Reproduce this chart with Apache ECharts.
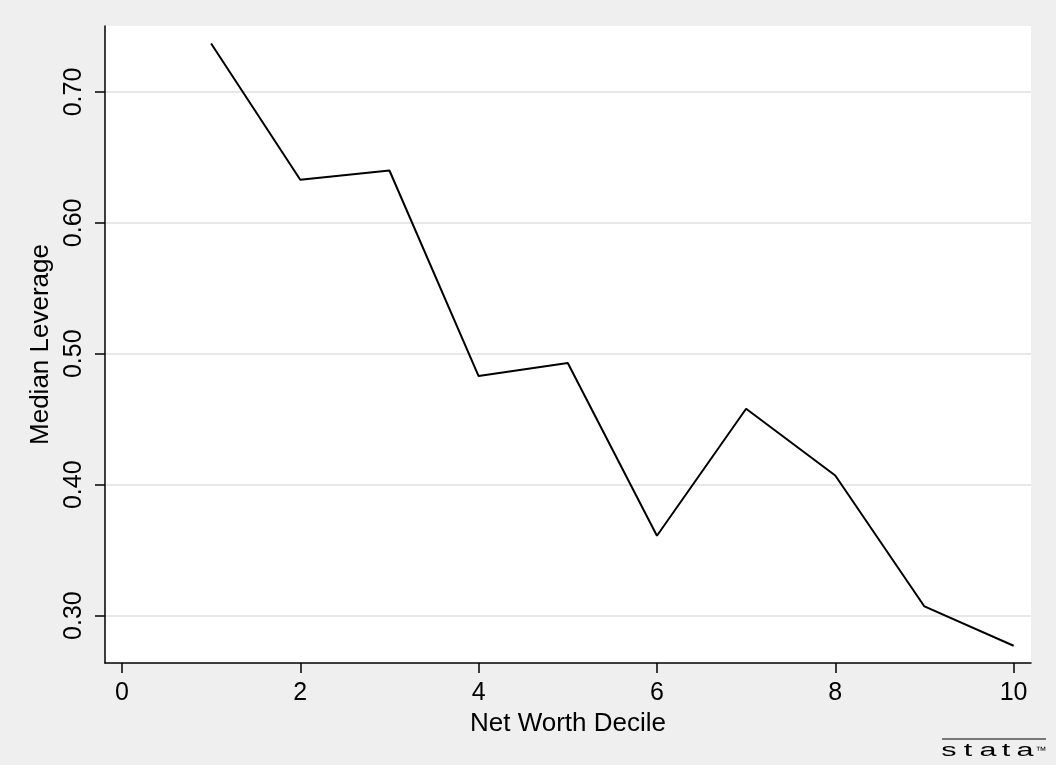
<!DOCTYPE html>
<html><head><meta charset="utf-8">
<script src="https://cdn.jsdelivr.net/npm/echarts@6/dist/echarts.min.js"></script>
<style>html,body{margin:0;padding:0;background:#efefef}#c{width:1056px;height:765px}</style>
</head><body><div id="c"></div>
<script>
const deciles = [1,2,3,4,5,6,7,8,9,10];
const medianLeverage = [0.737,0.633,0.640,0.483,0.493,0.361,0.458,0.407,0.307,0.277];
const xTicks = [0,2,4,6,8,10];
const yTicks = [0.3,0.4,0.5,0.6,0.7];
const logoChars = ['s','t','a','t','a','™'];
const font = '"Liberation Sans", Arial, sans-serif';
const chart = echarts.init(document.getElementById('c'));
const logoX = [949,968,988,1006,1025,1041];
const logo = logoChars.map((ch,i)=>({type:'group',x:logoX[i],y:751,scaleX:i<5?1.7:1,
  children:[{type:'text',x:0,y:0,
  style:{text:ch,fontFamily:font,fontSize:i<5?18:11,fill:'#000',align:'center',verticalAlign:'middle'}}]}));
chart.setOption({
  backgroundColor:'#efefef',
  animation:false,
  grid:{left:105,top:26,right:25,bottom:102,show:true,backgroundColor:'#ffffff',borderWidth:0},
  xAxis:{type:'value',min:-0.19,max:10.195,
    name:'Net Worth Decile',nameLocation:'middle',nameGap:44,
    nameTextStyle:{fontFamily:font,fontSize:26,color:'#000'},
    axisLine:{show:true,onZero:false,lineStyle:{color:'#000',width:1.5}},
    axisTick:{show:true,length:10,customValues:xTicks,lineStyle:{color:'#000',width:1.5}},
    axisLabel:{customValues:xTicks,margin:18,fontFamily:font,fontSize:25,color:'#000'},
    splitLine:{show:false}},
  yAxis:{type:'value',min:0.2638,max:0.7504,
    name:'Median Leverage',nameLocation:'middle',nameGap:43,nameRotate:90,
    nameTextStyle:{fontFamily:font,fontSize:26,color:'#000'},
    axisLine:{show:true,onZero:false,lineStyle:{color:'#000',width:1.5}},
    axisTick:{show:true,length:10,customValues:yTicks,lineStyle:{color:'#000',width:1.5}},
    axisLabel:{customValues:yTicks,rotate:90,margin:18,fontFamily:font,fontSize:25,color:'#000',
      formatter:v=>v.toFixed(2)},
    splitLine:{show:true,lineStyle:{color:'#e8e8e8',width:2}}},
  series:[{type:'line',data:deciles.map((d,i)=>[d,medianLeverage[i]]),
    symbol:'none',lineStyle:{color:'#000',width:2},z:5}],
  graphic:[
    {type:'line',shape:{x1:942,y1:739,x2:1046,y2:739},style:{stroke:'#000',lineWidth:1}}
  ].concat(logo)
});
</script></body></html>
